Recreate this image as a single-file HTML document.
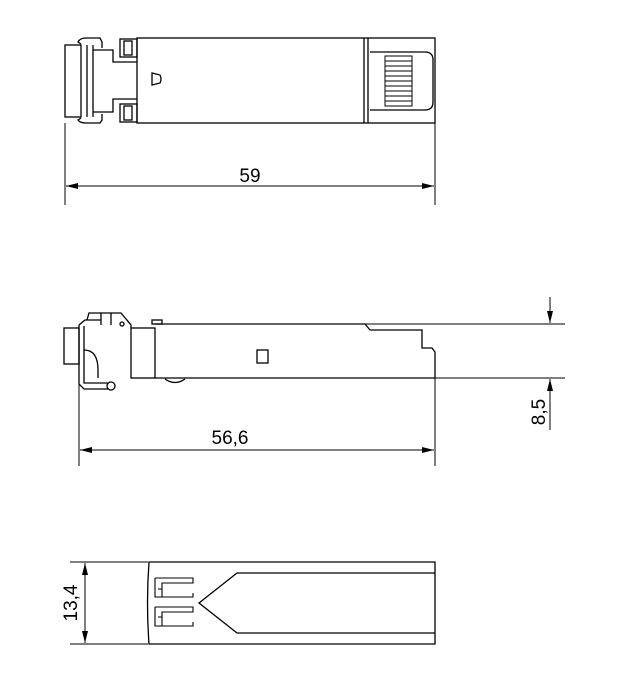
<!DOCTYPE html>
<html><head><style>body{margin:0;background:#fff}svg{display:block}text{font-family:"Liberation Sans",Arial,sans-serif;font-size:19px;fill:#000;stroke:none}</style></head><body>
<svg width="622" height="682" viewBox="0 0 622 682" xmlns="http://www.w3.org/2000/svg" fill="none" stroke="#000" stroke-width="1.3">
<defs><marker id="a" markerWidth="12" markerHeight="6" refX="12" refY="3" orient="auto" markerUnits="userSpaceOnUse"><path d="M0,0 L12,3 L0,6z" fill="#000" stroke="none"/></marker></defs>
<!-- TOP VIEW -->
<rect x="137" y="38" width="298" height="85"/>
<rect x="65" y="45" width="16" height="72"/>
<path d="M81,44 L78,42 Q80,38 86,38 L100,38 L102,42 L102,48 M81,118 L78,120 Q80,123 86,123 L100,123 L102,120 L102,114"/>
<path d="M87,45 L87,117 M93,45 L93,117 M93,50 L113,50 L113,62 L137,62 M93,112 L113,112 L113,99 L137,99"/>
<rect x="120" y="39" width="17" height="18"/><rect x="124" y="41" width="8" height="14"/>
<rect x="120" y="104" width="17" height="18"/><rect x="124" y="106" width="8" height="14"/>
<path d="M152,73 L152,85 L160,83 Q162,79 160,75 Z"/>
<path d="M364,38 L364,123 M368,38 L368,123"/>
<path d="M370,52 L425,52 Q433,52 433,60 L433,102 Q433,110 425,110 L370,110"/>
<path d="M385,56 L412,56 L412,106 L385,106 Z M385,61 L412,61 M385,66 L412,66 M385,71 L412,71 M385,76 L412,76 M385,81 L412,81 M385,86 L412,86 M385,91 L412,91 M385,96 L412,96 M385,101 L412,101" stroke-width="1"/>
<path d="M65,123 L65,205 M435,123 L435,205" stroke-width="1"/>
<path d="M250,186 L66,186" marker-end="url(#a)" stroke-width="1"/><path d="M250,186 L434,186" marker-end="url(#a)" stroke-width="1"/>
<text x="250" y="182" text-anchor="middle">59</text>
<!-- SIDE VIEW -->
<path d="M155,324 L365,324 L370,330 L422,330 L422,348 L432,348 L435,352 L435,378 L155,378"/>
<rect x="131" y="328" width="24" height="50"/>
<rect x="64" y="328" width="15" height="36"/>
<rect x="152" y="320" width="10" height="4"/>
<path d="M79,325 L85,320 L101,320 L101,325 M87,320 L89,313 L121,313 L131,325 L131,328 M111,313 L111,325 M101,313 L101,325"/>
<circle cx="122" cy="324" r="2"/>
<path d="M79,325 L79,384 L84,389 L108,389 M84,326 L84,383 L108,383 M84,350 Q98,350 98,370 L98,378"/>
<circle cx="111" cy="386" r="4"/>
<path d="M165,379 Q175,386 185,379"/>
<rect x="257" y="350" width="11" height="13"/>
<path d="M365,324 L565,324 M435,378 L565,378" stroke-width="1"/>
<path d="M550,297 L550,323" marker-end="url(#a)" stroke-width="1"/><path d="M550,430 L550,379" marker-end="url(#a)" stroke-width="1"/>
<text transform="translate(545,412) rotate(-90)" text-anchor="middle">8,5</text>
<path d="M79,380 L79,466 M435,378 L435,466" stroke-width="1"/>
<path d="M250,450 L80,450" marker-end="url(#a)" stroke-width="1"/><path d="M250,450 L434,450" marker-end="url(#a)" stroke-width="1"/>
<text x="230" y="444" text-anchor="middle">56,6</text>
<!-- BOTTOM VIEW -->
<path d="M149,562 L435,562 L435,644 L149,644 Q146,603 149,562 Z"/>
<path d="M435,573 L237,573 L199,603 L237,633 L435,633"/>
<path d="M155,578 L193,578 L193,583 L162,583 L162,597 L193,597 L193,593 M155,578 L155,597 L193,597 M158,589 L162,589" stroke-width="1.1"/>
<path d="M155,607 L193,607 L193,612 L162,612 L162,626 L193,626 L193,622 M155,607 L155,626 L193,626 M158,617 L162,617" stroke-width="1.1"/>
<path d="M70,562 L148,562 M70,644 L148,644" stroke-width="1"/>
<path d="M85,603 L85,563" marker-end="url(#a)" stroke-width="1"/><path d="M85,603 L85,643" marker-end="url(#a)" stroke-width="1"/>
<text transform="translate(77,603) rotate(-90)" text-anchor="middle">13,4</text>
</svg>
</body></html>
